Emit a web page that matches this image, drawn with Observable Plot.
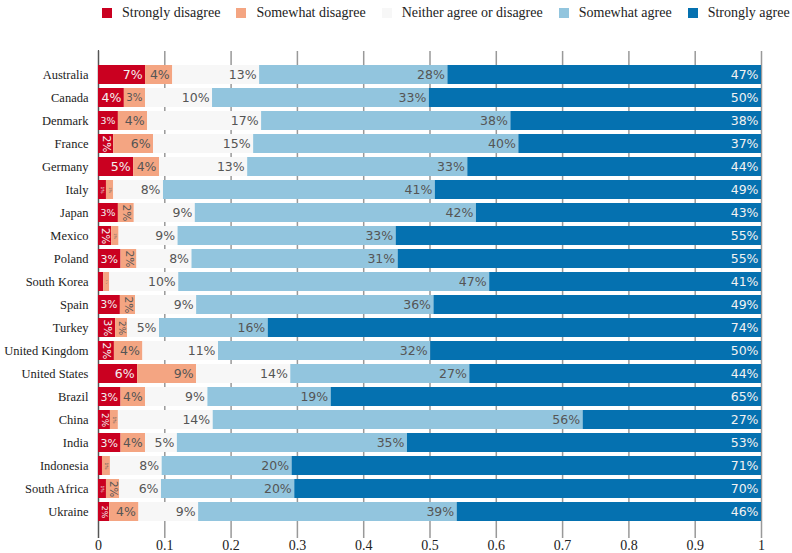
<!DOCTYPE html>
<html>
<head>
<meta charset="utf-8">
<script src="https://cdn.jsdelivr.net/npm/d3@7"></script>
<script src="https://cdn.jsdelivr.net/npm/@observablehq/plot@0.6"></script>
<style>
  body { margin: 0; background: #fff; }
  #wrap { position: relative; width: 792px; height: 553px; }
  #legend { position: absolute; left: 102px; top: 5px; display: flex; gap: 16px; white-space: nowrap;
            font-family: "Liberation Serif", "Times New Roman", serif; font-size: 14px; color: #222; }
  .item { display: flex; align-items: center; flex: none; }
  .sw { width: 10px; height: 10px; margin-right: 10px; flex: none; }
  #chart { position: absolute; left: 0; top: 0; }
</style>
</head>
<body>
<div id="wrap">
  <div id="chart"></div>
  <div id="legend"></div>
</div>
<script>
const countries = ["Australia","Canada","Denmark","France","Germany","Italy","Japan","Mexico","Poland","South Korea","Spain","Turkey","United Kingdom","United States","Brazil","China","India","Indonesia","South Africa","Ukraine"];
const categories = ["Strongly disagree","Somewhat disagree","Neither agree or disagree","Somewhat agree","Strongly agree"];
const colors = ["#ca0020","#f4a582","#f7f7f7","#92c5de","#0571b0"];

const stronglyDisagree = [0.071,0.039,0.030,0.023,0.053,0.012,0.030,0.020,0.034,0.008,0.033,0.026,0.024,0.059,0.034,0.018,0.034,0.006,0.012,0.017];
const somewhatDisagree = [0.041,0.032,0.044,0.060,0.039,0.011,0.024,0.011,0.024,0.009,0.023,0.018,0.043,0.089,0.037,0.012,0.037,0.012,0.020,0.044];
const neither          = [0.131,0.101,0.172,0.151,0.133,0.075,0.092,0.089,0.083,0.104,0.092,0.048,0.114,0.142,0.094,0.143,0.048,0.078,0.063,0.090];
const somewhatAgree    = [0.284,0.327,0.376,0.400,0.332,0.410,0.424,0.329,0.311,0.469,0.358,0.164,0.320,0.270,0.186,0.558,0.347,0.196,0.201,0.390];
const stronglyAgree    = [0.473,0.501,0.378,0.366,0.443,0.492,0.430,0.551,0.548,0.410,0.494,0.744,0.499,0.440,0.649,0.269,0.534,0.708,0.704,0.459];
const xTicks = [0,0.1,0.2,0.3,0.4,0.5,0.6,0.7,0.8,0.9,1];

const series = [stronglyDisagree, somewhatDisagree, neither, somewhatAgree, stronglyAgree];

// build stacked table
const plotW = 792 - 98 - 31;
const rows = [];
countries.forEach((c, i) => {
  let acc = 0;
  series.forEach((s, k) => {
    const v = s[i];
    const label = Math.round(v * 100) + "%";
    const w = v * plotW;
    const em = 0.636 * (label.length - 1) + 0.95;
    const fh = Math.min(12.5, (w - 5) / em);
    const fr = Math.min(11, 17 / em, (w - 4) * 1.1);
    let rot = false, size = fh;
    if (!(fh >= 9 || fh >= fr)) { rot = true; size = fr; }
    rows.push({country: c, category: categories[k], k, value: v, x1: acc, x2: acc + v,
               mid: acc + v / 2, label, rot, size, dark: (k === 0 || k === 4)});
    acc += v;
  });
});
const labeled = rows.filter(d => d.size >= 2);

function labelMarks(rot, dark) {
  const data = labeled.filter(d => d.rot === rot && d.dark === dark);
  const base = {
    y: "country", text: "label", fontSize: d => d.size,
    fontFamily: "DejaVu Sans", fill: dark ? "#f2f2f2" : "#555"
  };
  return rot
    ? Plot.text(data, {...base, x: "mid", rotate: 90, textAnchor: "middle"})
    : Plot.text(data, {...base, x: "x2", dx: -3, textAnchor: "end"});
}

const chart = Plot.plot({
  width: 792,
  height: 553,
  marginTop: 54,
  marginBottom: 20,
  marginLeft: 98,
  marginRight: 31,
  style: {fontFamily: "'Liberation Serif', 'Times New Roman', serif", fontSize: "12.5px", color: "#222", background: "#fff"},
  x: {domain: [0, 1], ticks: xTicks, tickFormat: d => String(d), tickSize: 0, tickPadding: 7, label: null},
  y: {domain: countries, paddingInner: 0.16, paddingOuter: 0.08, tickSize: 0, tickPadding: 10, label: null},
  color: {domain: categories, range: colors},
  marks: [
    Plot.ruleX(xTicks, {stroke: "#999", strokeWidth: 1.5, insetTop: -3, insetBottom: -5}),
    Plot.ruleX([0], {stroke: "#555", strokeWidth: 1.2, insetTop: -4, insetBottom: -5}),
    Plot.barX(rows, {y: "country", x1: "x1", x2: "x2", fill: "category"}),
    labelMarks(false, false),
    labelMarks(false, true),
    labelMarks(true, false),
    labelMarks(true, true)
  ]
});
d3.select(chart).selectAll('[aria-label^="x-axis"]').attr("font-size", 14).style("font-size", "14px");
document.getElementById("chart").appendChild(chart);

const legend = document.getElementById("legend");
categories.forEach((c, k) => {
  const item = document.createElement("div");
  item.className = "item";
  const sw = document.createElement("div");
  sw.className = "sw";
  sw.style.background = colors[k];
  const t = document.createElement("span");
  t.textContent = c;
  item.appendChild(sw);
  item.appendChild(t);
  legend.appendChild(item);
});
</script>
</body>
</html>
